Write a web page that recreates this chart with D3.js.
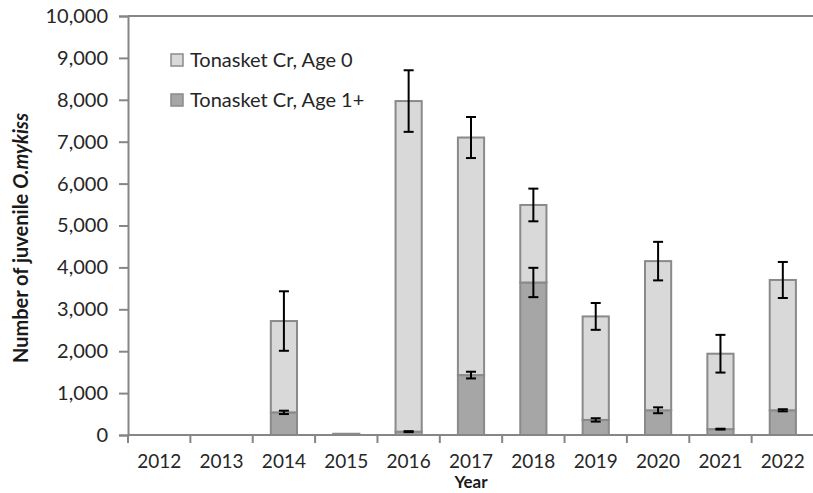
<!DOCTYPE html>
<html lang="en">
<head>
<meta charset="UTF-8">
<title>Tonasket Cr juvenile O.mykiss</title>
<style>
  body { margin: 0; background: #fff; }
  svg { display: block; font-family: Lato, "Open Sans", sans-serif; }
</style>
</head>
<body>
<svg id="chart" width="813" height="493"></svg>
<script src="https://cdn.jsdelivr.net/npm/d3@7"></script>
<script>
// values
var years = ["2012", "2013", "2014", "2015", "2016", "2017", "2018", "2019", "2020", "2021", "2022"];
var age1 = [0, 0, 540, 0, 80, 1430, 3640, 360, 590, 140, 590];
var age0 = [0, 0, 2180, 30, 7890, 5670, 1850, 2470, 3560, 1800, 3110];
var age1Err = [0, 0, 40, 0, 12, 80, 350, 40, 70, 10, 25];
var totalErr = [0, 0, 710, 0, 735, 490, 390, 320, 460, 450, 430];
var yTicks = [0, 1000, 2000, 3000, 4000, 5000, 6000, 7000, 8000, 9000, 10000];

var svg = d3.select("#chart"),
  margin = {left: 128, top: 16, right: -1, bottom: 58},
  W = +svg.attr("width"), H = +svg.attr("height"),
  x0 = margin.left, x1 = W - margin.right,
  y0 = H - margin.bottom, y1 = margin.top;

var x = d3.scaleBand().domain(years).range([x0, x1]).paddingInner(0.58).paddingOuter(0.29);
var xb = d3.scaleBand().domain(years).range([x0, x1]);
var y = d3.scaleLinear().domain([0, 10000]).range([y0, y1]);

var axisCol = "#868686", barStroke = "#8a8a8a", txtCol = "#262626";

// plot border (top line)
svg.append("line").attr("x1", x0).attr("x2", x1).attr("y1", y1).attr("y2", y1)
  .attr("stroke", axisCol).attr("stroke-width", 2);

var rows = years.map(function (yr, i) {
  return {year: yr, a1: age1[i], a0: age0[i], e1: age1Err[i], et: totalErr[i]};
});

var g = svg.append("g");
rows.forEach(function (d) {
  var tot = d.a1 + d.a0;
  if (d.a1 > 0) {
    g.append("rect").attr("x", x(d.year)).attr("width", x.bandwidth())
      .attr("y", y(d.a1)).attr("height", y(0) - y(d.a1))
      .attr("fill", "#a6a6a6").attr("stroke", barStroke).attr("stroke-width", 2);
  }
  if (d.a0 > 0) {
    g.append("rect").attr("x", x(d.year)).attr("width", x.bandwidth())
      .attr("y", y(tot)).attr("height", y(d.a1) - y(tot))
      .attr("fill", "#d9d9d9").attr("stroke", barStroke).attr("stroke-width", 2);
  }
});

// error bars
function errBar(cx, v, e) {
  if (e <= 0) return;
  var top = y(v + e), bot = y(v - e);
  g.append("line").attr("x1", cx).attr("x2", cx).attr("y1", top).attr("y2", bot)
    .attr("stroke", "#000").attr("stroke-width", 2);
  [top, bot].forEach(function (yy) {
    g.append("line").attr("x1", cx - 5).attr("x2", cx + 5).attr("y1", yy).attr("y2", yy)
      .attr("stroke", "#000").attr("stroke-width", 2);
  });
}
rows.forEach(function (d) {
  var cx = x(d.year) + x.bandwidth() / 2;
  errBar(cx, d.a1, d.e1);
  errBar(cx, d.a1 + d.a0, d.et);
});

// y axis
var ya = svg.append("g").attr("transform", "translate(" + x0 + ",0)")
  .call(d3.axisLeft(y).tickValues(yTicks).tickSize(9).tickPadding(11).tickFormat(d3.format(",")));
ya.select(".domain").attr("stroke", axisCol).attr("stroke-width", 2);
ya.selectAll(".tick line").attr("stroke", axisCol).attr("stroke-width", 2);
ya.selectAll("text").attr("font-size", 20).attr("fill", txtCol).attr("font-family", "Lato, sans-serif");

// x axis: ticks between categories
var xa = svg.append("g").attr("transform", "translate(0," + y0 + ")");
xa.append("line").attr("x1", x0).attr("x2", x1).attr("stroke", axisCol).attr("stroke-width", 2);
years.forEach(function (yr) {
  xa.append("line").attr("x1", xb(yr)).attr("x2", xb(yr)).attr("y1", 0).attr("y2", 8)
    .attr("stroke", axisCol).attr("stroke-width", 2);
  xa.append("text").attr("x", xb(yr) + xb.bandwidth() / 2).attr("y", 33)
    .attr("text-anchor", "middle").attr("font-size", 19).attr("fill", txtCol).text(yr);
});

// axis titles
svg.append("text").attr("x", xb("2017") + xb.bandwidth() / 2).attr("y", 488)
  .attr("text-anchor", "middle").attr("font-size", 17).attr("font-weight", "bold")
  .attr("fill", "#1a1a1a").text("Year");

var yt = svg.append("text").attr("transform", "translate(28,238) rotate(-90)")
  .attr("text-anchor", "middle").attr("font-size", 20).attr("font-weight", "bold").attr("fill", "#1a1a1a");
yt.append("tspan").text("Number of juvenile ");
yt.append("tspan").attr("font-style", "italic").text("O.mykiss");

// legend
var legend = [{label: "Tonasket Cr, Age 0", fill: "#d9d9d9"}, {label: "Tonasket Cr, Age 1+", fill: "#a6a6a6"}];
legend.forEach(function (l, i) {
  var ly = 60 + i * 40;
  svg.append("rect").attr("x", 171).attr("y", ly - 6).attr("width", 12).attr("height", 12)
    .attr("fill", l.fill).attr("stroke", barStroke).attr("stroke-width", 1.5);
  svg.append("text").attr("x", 190).attr("y", ly + 7).attr("font-size", 20)
    .attr("fill", txtCol).text(l.label);
});
</script>
</body>
</html>
